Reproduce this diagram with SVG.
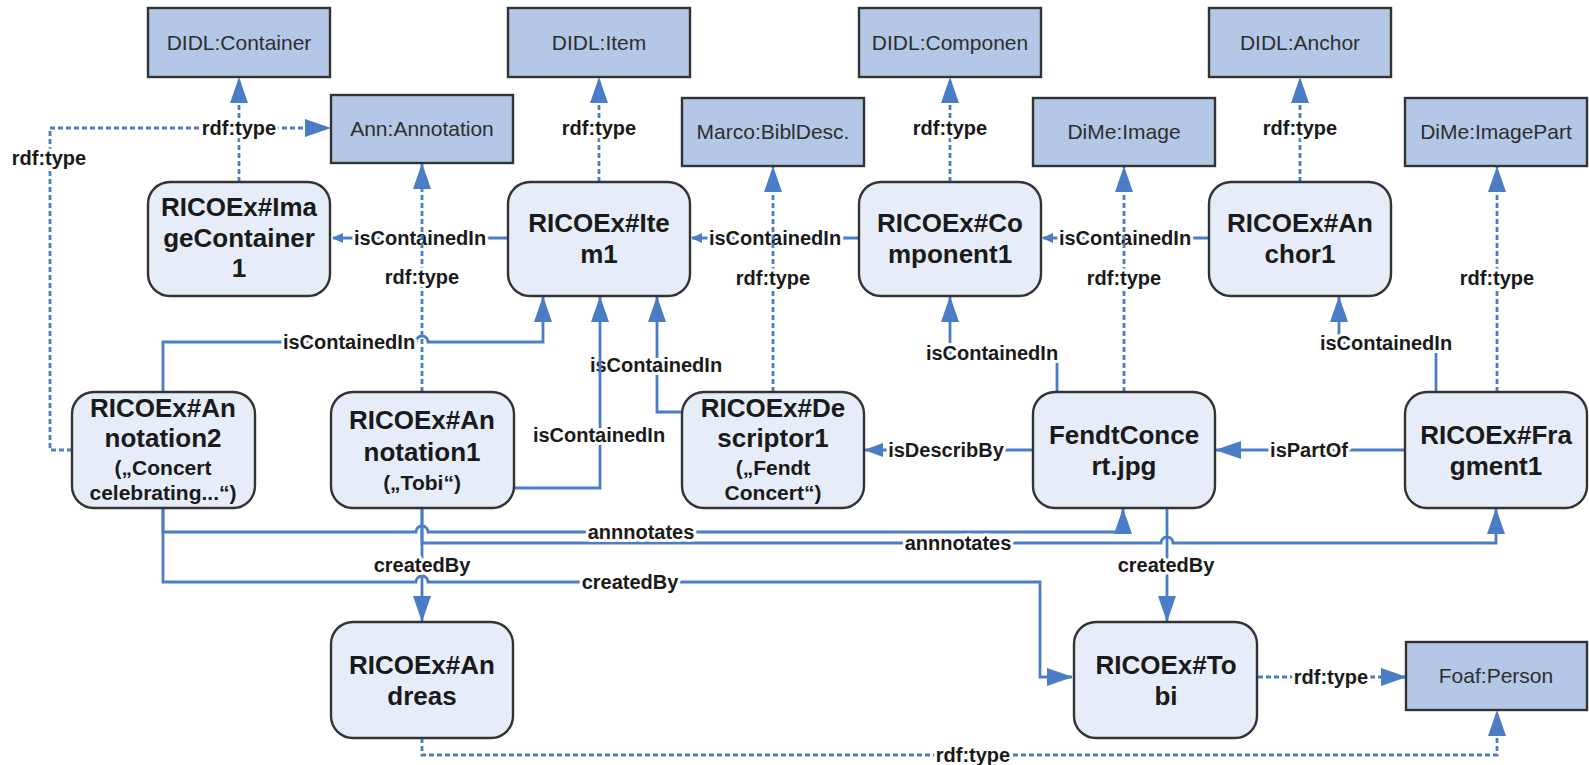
<svg xmlns="http://www.w3.org/2000/svg" width="1589" height="765" viewBox="0 0 1589 765">
<style>
.cls rect{fill:#b4c7e7;stroke:#333;stroke-width:2.4}
.cls text{font-family:"Liberation Sans",Arial,sans-serif;font-size:21px;fill:#2e2e2e;text-anchor:middle}
.inst rect{fill:#e6edf8;stroke:#333;stroke-width:2.4}
.inst text{font-family:"Liberation Sans",Arial,sans-serif;font-weight:bold;font-size:26px;fill:#1a1a1a;text-anchor:middle}
.inst text.s{font-size:21px}
.c{fill:none;stroke:#4a7dc6;stroke-width:2.8}
.d{fill:none;stroke:#4a7dc6;stroke-width:2.8;stroke-dasharray:5 3}
.big{marker-end:url(#ab)}
.med{marker-end:url(#am)}
.sml{marker-end:url(#as)}
.lbl{font-family:"Liberation Sans",Arial,sans-serif;font-weight:bold;font-size:20px;fill:#1a1a1a;text-anchor:middle;stroke:#fff;stroke-width:6;stroke-linejoin:round;paint-order:stroke}
</style>
<defs>
<marker id="ab" viewBox="0 0 26 18" refX="25" refY="9" markerWidth="26" markerHeight="18" markerUnits="userSpaceOnUse" orient="auto"><path d="M0,0 L26,9 L0,18 z" fill="#4a7dc6"/></marker>
<marker id="am" viewBox="0 0 19 14" refX="18" refY="7" markerWidth="19" markerHeight="14" markerUnits="userSpaceOnUse" orient="auto"><path d="M0,0 L19,7 L0,14 z" fill="#4a7dc6"/></marker>
<marker id="as" viewBox="0 0 11 10" refX="10" refY="5" markerWidth="11" markerHeight="10" markerUnits="userSpaceOnUse" orient="auto"><path d="M0,0 L11,5 L0,10 z" fill="#4a7dc6"/></marker>
</defs>
<rect x="0" y="0" width="1589" height="765" fill="#fff"/>

<g id="connectors">
<path class="d big" d="M239,182 L239,78"/>
<path class="d big" d="M599,182 L599,78"/>
<path class="d big" d="M950,182 L950,78"/>
<path class="d big" d="M1300,182 L1300,78"/>
<path class="d big" d="M72,450 L50,450 L50,128 L330,128"/>
<path class="d big" d="M1497,392 L1497,167"/>
<path class="c sml" d="M508,238 L333,238"/>
<path class="c sml" d="M859,238 L692,238"/>
<path class="c sml" d="M1209,238 L1043,238"/>
<path class="c big" d="M163,392 L163,342 L416,342 A6,6 0 0 1 428,342 L543,342 L543,297"/>
<path class="c big" d="M682,412 L657,412 L657,297"/>
<path class="c med" d="M1033,450 L865,450"/>
<path class="c big" d="M1405,450 L1216,450"/>
<path class="c big" d="M1057,392 L1057,353 L950,353 L950,297"/>
<path class="c big" d="M1436,392 L1436,343 L1339,343 L1339,297"/>
<path class="c big" d="M422,508 L422,543 L1161,543 A6,6 0 0 1 1173,543 L1496,543 L1496,509"/>
<path class="c big" d="M163,508 L163,532 L416,532 A6,6 0 0 1 428,532 L1123,532 L1123,509"/>
<path class="c big" d="M422,508 L422,621"/>
<path class="c big" d="M163,508 L163,582 L416,582 A6,6 0 0 1 428,582 L1040,582 L1040,677 L1072,677"/>
<path class="c big" d="M1167,508 L1167,621"/>
<path class="d big" d="M1258,677 L1406,677"/>
<path class="d big" d="M422,738 L422,755 L1497,755 L1497,711"/>

<text class="lbl" x="239" y="135">rdf:type</text>
<text class="lbl" x="599" y="135">rdf:type</text>
<text class="lbl" x="950" y="135">rdf:type</text>
<text class="lbl" x="1300" y="135">rdf:type</text>
<text class="lbl" x="49" y="165">rdf:type</text>
<text class="lbl" x="1497" y="285">rdf:type</text>
<text class="lbl" x="420" y="245">isContainedIn</text>
<text class="lbl" x="775" y="245">isContainedIn</text>
<text class="lbl" x="1125" y="245">isContainedIn</text>
<text class="lbl" x="349" y="349">isContainedIn</text>
<text class="lbl" x="656" y="372">isContainedIn</text>
<text class="lbl" x="946" y="457">isDescribBy</text>
<text class="lbl" x="1309" y="457">isPartOf</text>
<text class="lbl" x="992" y="360">isContainedIn</text>
<text class="lbl" x="1386" y="350">isContainedIn</text>
<text class="lbl" x="641" y="539">annnotates</text>
<text class="lbl" x="958" y="550">annnotates</text>
<text class="lbl" x="422" y="572">createdBy</text>
<text class="lbl" x="630" y="589">createdBy</text>
<text class="lbl" x="1166" y="572">createdBy</text>
<text class="lbl" x="1331" y="684">rdf:type</text>
<text class="lbl" x="973" y="762">rdf:type</text>

<path class="d big" d="M422,392 L422,164"/>
<path class="d big" d="M773,392 L773,167"/>
<path class="d big" d="M1124,392 L1124,167"/>
<path class="c big" d="M514,488 L600,488 L600,297"/>
<text class="lbl" x="422" y="284">rdf:type</text>
<text class="lbl" x="773" y="285">rdf:type</text>
<text class="lbl" x="1124" y="285">rdf:type</text>
<text class="lbl" x="599" y="442">isContainedIn</text>
</g>

<g id="didl-container" class="cls"><rect x="148" y="8" width="182" height="69"/><text x="239" y="50">DIDL:Container</text></g>
<g id="didl-item" class="cls"><rect x="508" y="8" width="182" height="69"/><text x="599" y="50">DIDL:Item</text></g>
<g id="didl-component" class="cls"><rect x="859" y="8" width="182" height="69"/><text x="950" y="50">DIDL:Componen</text></g>
<g id="didl-anchor" class="cls"><rect x="1209" y="8" width="182" height="69"/><text x="1300" y="50">DIDL:Anchor</text></g>
<g id="ann-annotation" class="cls"><rect x="331" y="95" width="182" height="68"/><text x="422" y="136">Ann:Annotation</text></g>
<g id="marco-bibldesc" class="cls"><rect x="682" y="98" width="182" height="68"/><text x="773" y="139">Marco:BiblDesc.</text></g>
<g id="dime-image" class="cls"><rect x="1033" y="98" width="182" height="68"/><text x="1124" y="139">DiMe:Image</text></g>
<g id="dime-imagepart" class="cls"><rect x="1405" y="98" width="182" height="68"/><text x="1496" y="139">DiMe:ImagePart</text></g>
<g id="foaf-person" class="cls"><rect x="1406" y="642" width="181" height="68"/><text x="1496" y="683">Foaf:Person</text></g>

<g id="imagecontainer1" class="inst"><rect x="148" y="182" width="182" height="114" rx="22"/><text x="239" y="216">RICOEx#Ima</text><text x="239" y="247">geContainer</text><text x="239" y="277">1</text></g>
<g id="item1" class="inst"><rect x="508" y="182" width="182" height="114" rx="22"/><text x="599" y="232">RICOEx#Ite</text><text x="599" y="263">m1</text></g>
<g id="component1" class="inst"><rect x="859" y="182" width="182" height="114" rx="22"/><text x="950" y="232">RICOEx#Co</text><text x="950" y="263">mponent1</text></g>
<g id="anchor1" class="inst"><rect x="1209" y="182" width="182" height="114" rx="22"/><text x="1300" y="232">RICOEx#An</text><text x="1300" y="263">chor1</text></g>

<g id="annotation2" class="inst"><rect x="72" y="392" width="183" height="116" rx="22"/><text x="163" y="417">RICOEx#An</text><text x="163" y="447">notation2</text><text class="s" x="163" y="475">(„Concert</text><text class="s" x="163" y="500">celebrating...“)</text></g>
<g id="annotation1" class="inst"><rect x="331" y="392" width="183" height="116" rx="22"/><text x="422" y="429">RICOEx#An</text><text x="422" y="461">notation1</text><text class="s" x="422" y="490">(„Tobi“)</text></g>
<g id="descriptor1" class="inst"><rect x="682" y="392" width="182" height="116" rx="22"/><text x="773" y="417">RICOEx#De</text><text x="773" y="447">scriptor1</text><text class="s" x="773" y="475">(„Fendt</text><text class="s" x="773" y="500">Concert“)</text></g>
<g id="fendtconcert" class="inst"><rect x="1033" y="392" width="182" height="116" rx="22"/><text x="1124" y="444">FendtConce</text><text x="1124" y="475">rt.jpg</text></g>
<g id="fragment1" class="inst"><rect x="1405" y="392" width="182" height="116" rx="22"/><text x="1496" y="444">RICOEx#Fra</text><text x="1496" y="475">gment1</text></g>

<g id="andreas" class="inst"><rect x="331" y="622" width="182" height="116" rx="22"/><text x="422" y="674">RICOEx#An</text><text x="422" y="705">dreas</text></g>
<g id="tobi" class="inst"><rect x="1074" y="622" width="183" height="116" rx="22"/><text x="1166" y="674">RICOEx#To</text><text x="1166" y="705">bi</text></g>
</svg>
